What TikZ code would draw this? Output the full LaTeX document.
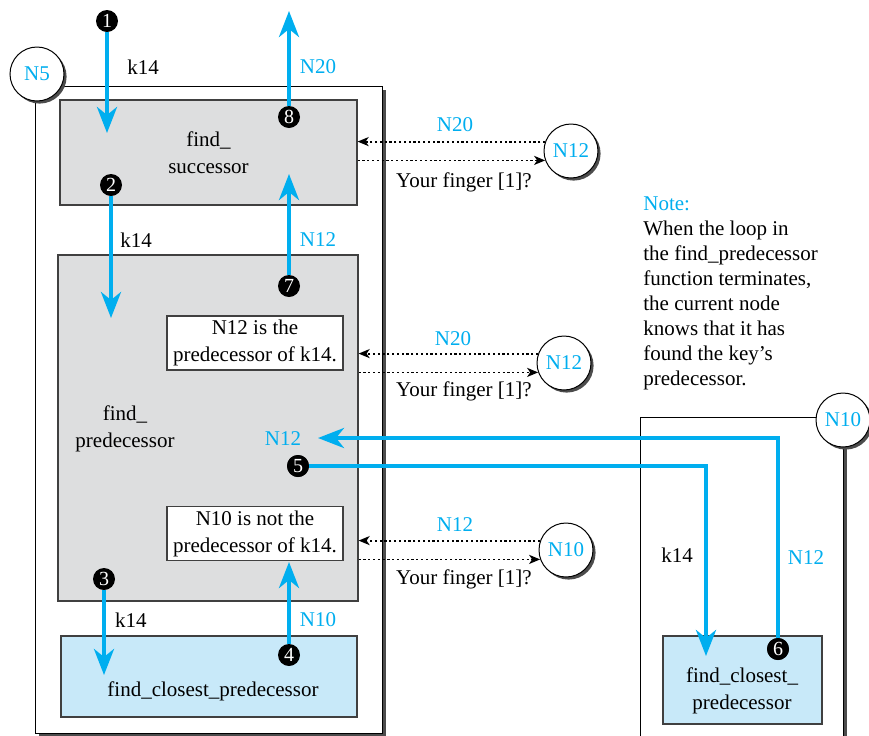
\documentclass[tikz,border=0pt]{standalone}
\usepackage{fontspec}
\setmainfont{Liberation Serif}
\usetikzlibrary{arrows.meta,positioning,shadows}
\definecolor{chordblue}{RGB}{0,174,239}
\definecolor{boxgray}{RGB}{221,222,223}
\definecolor{boxblue}{RGB}{200,233,249}

\begin{document}
\begin{tikzpicture}[x=0.5pt, y=-0.5pt,
    font=\fontsize{10.5}{13.5}\selectfont,
    host/.style={rectangle, draw, line width=0.5pt, fill=white, drop shadow={shadow xshift=2.2pt, shadow yshift=-2pt, fill=black!70, opacity=1}},
    graybox/.style={rectangle, draw=black!75, line width=0.6pt, fill=boxgray, align=center},
    bluebox/.style={rectangle, draw=black!75, line width=0.6pt, fill=boxblue, align=center},
    msgbox/.style={rectangle, draw=black!75, line width=0.6pt, fill=white, align=center, inner sep=0pt, minimum width=88pt, minimum height=27pt},
    peer/.style={circle, draw, line width=0.5pt, fill=white, text=chordblue, inner sep=0pt, minimum size=27pt, drop shadow={shadow xshift=1.3pt, shadow yshift=-1.3pt, fill=black!70, opacity=1}},
    stepnum/.style={circle, fill=black, text=white, inner sep=0pt, minimum size=11pt, font=\fontsize{10}{10}\selectfont},
    flow/.style={draw=chordblue, line width=2pt, -{Stealth[length=13pt, width=10pt, inset=4pt]}},
    dotarrow/.style={line width=0.9pt, dash pattern=on 1.1pt off 1.3pt, -{Stealth[length=5.5pt, width=4.5pt, inset=1.5pt]}},
    keylbl/.style={text=black},
    idlbl/.style={text=chordblue}
]
    \useasboundingbox (0,0) rectangle (869,735);
    \clip (0,0) rectangle (869,735);

    % Hosts
    \node[host, minimum width=173.5pt, minimum height=323.5pt] (hostA) at (208.5,409.5) {};
    \node[host, minimum width=101.5pt, minimum height=200pt] (hostB) at (741.5,617) {};

    % Functions
    \node[graybox, minimum width=148.5pt, minimum height=52.5pt] (succ) at (208.5,152.5) {find\_\\successor};
    \node[graybox, minimum width=150pt, minimum height=173pt] (pred) at (208,428) {};
    \node[align=center] (predname) at (125,429) {find\_\\predecessor};
    \node[bluebox, minimum width=148pt, minimum height=40.5pt] (closeA) at (209,676.5) {};
    \node (closeAname) at (213,691) {find\_closest\_predecessor};
    \node[bluebox, minimum width=79.5pt, minimum height=44pt] (closeB) at (742.5,680) {};
    \node[align=center] (closeBname) at (742,691) {find\_closest\_\\predecessor};

    \node[msgbox] (msgA) at (255,343) {N12 is the\\predecessor of k14.};
    \node[msgbox] (msgB) at (255,533.5) {N10 is not the\\predecessor of k14.};

    % Steps
    \node[stepnum] (s1) at (107,21) {1};
    \node[stepnum] (s2) at (111,185) {2};
    \node[stepnum] (s3) at (104,579) {3};
    \node[stepnum] (s4) at (289,655) {4};
    \node[stepnum] (s5) at (298,466) {5};
    \node[stepnum] (s6) at (778,649) {6};
    \node[stepnum] (s7) at (289,286) {7};
    \node[stepnum] (s8) at (289,117) {8};

    \coordinate (t1) at (107,133);
    \coordinate (t2) at (111,318);
    \coordinate (t3) at (104,675);
    \coordinate (t4) at (289,562);
    \coordinate (t5) at (706,656);
    \coordinate (t6) at (318,438);
    \coordinate (t7) at (289,174);
    \coordinate (t8) at (289,11);

    % Arrows
    \draw[flow] (s1) -- (t1);
    \draw[flow] (s2) -- (t2);
    \draw[flow] (s3) -- (t3);
    \draw[flow] (s4) -- (t4);
    \draw[flow] (s5) -| (t5);
    \draw[flow] (s6) |- (t6);
    \draw[flow] (s7) -- (t7);
    \draw[flow] (s8) -- (t8);

    \node[stepnum] at (s5) {5};
    \node[stepnum] at (s6) {6};

    % Arrow labels
    \node[keylbl] (k1) at (143,67) {k14};
    \node[idlbl] (r8) at (318,67) {N20};
    \node[keylbl] (k2) at (136,240) {k14};
    \node[idlbl] (r7) at (318,240) {N12};
    \node[keylbl] (k3) at (131,620) {k14};
    \node[idlbl] (r4) at (318,620) {N10};
    \node[keylbl] (k5) at (677,555) {k14};
    \node[idlbl] (r6) at (806,558) {N12};
    \node[idlbl] (r6b) at (283,439) {N12};

    % Peers
    \node[peer] (peerN5) at (37,74) {N5};
    \node[peer] (peerN10) at (843,420) {N10};
    \node[peer] (askA) at (571,151) {N12};
    \node[peer] (askB) at (564,363) {N12};
    \node[peer] (askC) at (566,550) {N10};

    % Finger queries
    \draw[dotarrow] (askA.160) -- (askA.160 -| succ.east);
    \draw[dotarrow] (askA.200 -| succ.east) -- (askA.200);
    \draw[dotarrow] (askB.160) -- (askB.160 -| pred.east);
    \draw[dotarrow] (askB.200 -| pred.east) -- (askB.200);
    \draw[dotarrow] (askC.160) -- (askC.160 -| pred.east);
    \draw[dotarrow] (askC.200 -| pred.east) -- (askC.200);

    \node[idlbl] (qA) at (455,125) {N20};
    \node[keylbl] (aA) at (464,182) {Your finger [1]?};
    \node[idlbl] (qB) at (453,339) {N20};
    \node[keylbl] (aB) at (464,391) {Your finger [1]?};
    \node[idlbl] (qC) at (455,525) {N12};
    \node[keylbl] (aC) at (464,579) {Your finger [1]?};

    % Note
    \node[anchor=north west, align=left, inner sep=0pt, font=\fontsize{10.5}{12.5}\selectfont] (note) at (643,196)
        {\textcolor{chordblue}{Note:}\\When the loop in\\the find\_predecessor\\function terminates,\\the current node\\knows that it has\\found the key's\\predecessor.};
\end{tikzpicture}
\end{document}
